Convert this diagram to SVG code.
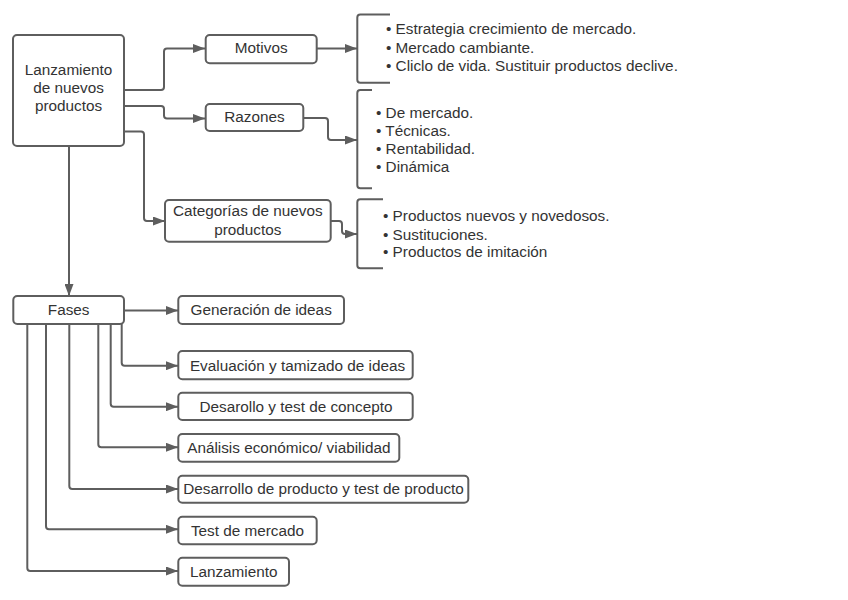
<svg xmlns="http://www.w3.org/2000/svg" width="848" height="600" viewBox="0 0 848 600">
<defs>
<style>
.box{fill:#ffffff;stroke:#5e5e5e;stroke-width:2}
.ln{fill:none;stroke:#5e5e5e;stroke-width:2}
.t{font-family:"Liberation Sans",Arial,sans-serif;font-size:15.3px;fill:#333333}
.c{text-anchor:middle}
</style>
<marker id="ah" markerUnits="userSpaceOnUse" markerWidth="12" markerHeight="9" refX="12" refY="4.5" orient="auto">
<path d="M0,0 L12,4.5 L0,9 z" fill="#5e5e5e"/>
</marker>
</defs>
<rect width="848" height="600" fill="#ffffff"/>
<g id="connectors">
<path class="ln" marker-end="url(#ah)" d="M125,90 H161 Q164,90 164,87 V51.5 Q164,48.5 167,48.5 H205"/>
<path class="ln" marker-end="url(#ah)" d="M125,106 H161 Q164,106 164,109 V115.5 Q164,118.5 167,118.5 H205"/>
<path class="ln" marker-end="url(#ah)" d="M125,131.5 H141 Q144,131.5 144,134.5 V218 Q144,221 147,221 H165"/>
<path class="ln" marker-end="url(#ah)" d="M69,146 V296"/>
<path class="ln" marker-end="url(#ah)" d="M317,48.5 H357"/>
<path class="ln" marker-end="url(#ah)" d="M304,118 H325 Q328,118 328,121 V137 Q328,140 331,140 H357"/>
<path class="ln" marker-end="url(#ah)" d="M331,221 H339 Q342,221 342,224 V231 Q342,234 345,234 H357"/>
<path class="ln" marker-end="url(#ah)" d="M124,310.5 H178"/>
<path class="ln" marker-end="url(#ah)" d="M121.7,324 V362.7 Q121.7,365.7 124.7,365.7 H178"/>
<path class="ln" marker-end="url(#ah)" d="M110.7,324 V403.7 Q110.7,406.7 113.7,406.7 H178"/>
<path class="ln" marker-end="url(#ah)" d="M98.3,324 V444.3 Q98.3,447.3 101.3,447.3 H178"/>
<path class="ln" marker-end="url(#ah)" d="M69.3,324 V486 Q69.3,489 72.3,489 H178"/>
<path class="ln" marker-end="url(#ah)" d="M46,324 V526.3 Q46,529.3 49,529.3 H178"/>
<path class="ln" marker-end="url(#ah)" d="M27.3,324 V568 Q27.3,571 30.3,571 H178"/>
</g>
<g id="lanzamiento-nuevos">
<rect class="box" x="13" y="35" width="111" height="111" rx="4"/>
<text class="t c" x="68.5" y="74.5">Lanzamiento</text>
<text class="t c" x="68.5" y="93">de nuevos</text>
<text class="t c" x="68.5" y="110.5">productos</text>
</g>
<g id="motivos">
<rect class="box" x="205.7" y="35" width="111" height="28.3" rx="4"/>
<text class="t c" x="261.2" y="53">Motivos</text>
</g>
<g id="razones">
<rect class="box" x="205.7" y="104" width="97.6" height="27" rx="4"/>
<text class="t c" x="254.5" y="122">Razones</text>
</g>
<g id="categorias">
<rect class="box" x="165" y="200" width="165.7" height="41.7" rx="4"/>
<text class="t c" x="247.8" y="216">Categorías de nuevos</text>
<text class="t c" x="247.8" y="234.5">productos</text>
</g>
<g id="motivos-lista">
<path class="ln" d="M390,14.5 H360.3 Q357.3,14.5 357.3,17.5 V79.7 Q357.3,82.7 360.3,82.7 H390"/>
<text class="t" x="386" y="34.3">• Estrategia crecimiento de mercado.</text>
<text class="t" x="386" y="53">• Mercado cambiante.</text>
<text class="t" x="386" y="71.3">• Cliclo de vida. Sustituir productos declive.</text>
</g>
<g id="razones-lista">
<path class="ln" d="M372,90 H360.3 Q357.3,90 357.3,93 V185.3 Q357.3,188.3 360.3,188.3 H372"/>
<text class="t" x="376" y="117.5">• De mercado.</text>
<text class="t" x="376" y="136">• Técnicas.</text>
<text class="t" x="376" y="154">• Rentabilidad.</text>
<text class="t" x="376" y="171.5">• Dinámica</text>
</g>
<g id="categorias-lista">
<path class="ln" d="M383,199.3 H360.3 Q357.3,199.3 357.3,202.3 V265.3 Q357.3,268.3 360.3,268.3 H383"/>
<text class="t" x="383" y="221">• Productos nuevos y novedosos.</text>
<text class="t" x="383" y="239.5">• Sustituciones.</text>
<text class="t" x="383" y="257">• Productos de imitación</text>
</g>
<g id="fases">
<rect class="box" x="13.3" y="296" width="110.7" height="28" rx="4"/>
<text class="t c" x="68.7" y="314.5">Fases</text>
</g>
<g id="generacion">
<rect class="box" x="178.3" y="296" width="165.7" height="28" rx="4"/>
<text class="t c" x="261.2" y="314.5">Generación de ideas</text>
</g>
<g id="evaluacion">
<rect class="box" x="178.3" y="351" width="234.4" height="28.3" rx="4"/>
<text class="t c" x="297.5" y="370.5">Evaluación y tamizado de ideas</text>
</g>
<g id="concepto">
<rect class="box" x="178.3" y="392.7" width="234.4" height="27.3" rx="4"/>
<text class="t c" x="296" y="411.5">Desarollo y test de concepto</text>
</g>
<g id="analisis">
<rect class="box" x="178.3" y="434" width="221" height="27.7" rx="4"/>
<text class="t c" x="288.8" y="452.8">Análisis económico/ viabilidad</text>
</g>
<g id="producto">
<rect class="box" x="178.3" y="475.7" width="290" height="27" rx="4"/>
<text class="t c" x="323.5" y="494.2">Desarrollo de producto y test de producto</text>
</g>
<g id="test-mercado">
<rect class="box" x="178.3" y="516.7" width="138.4" height="27.6" rx="4"/>
<text class="t c" x="247.5" y="535.5">Test de mercado</text>
</g>
<g id="lanzamiento">
<rect class="box" x="178.3" y="557.7" width="110.7" height="28" rx="4"/>
<text class="t c" x="233.7" y="576.7">Lanzamiento</text>
</g>
</svg>
